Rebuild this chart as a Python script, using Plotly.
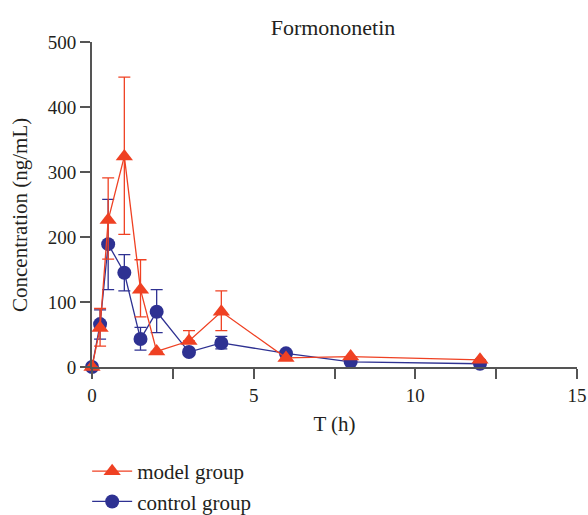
import plotly.graph_objects as go

t = [0, 0.25, 0.5, 1, 1.5, 2, 3, 4, 6, 8, 12]
model = [0, 60, 226, 324, 119, 24, 40, 85, 14, 16, 11]
model_up = [0, 30, 65, 122, 46, 0, 16, 32, 0, 0, 0]
model_dn = [0, 28, 60, 120, 42, 0, 0, 29, 0, 0, 0]
control = [0, 66, 189, 145, 43, 85, 23, 37, 21, 8, 5]
control_up = [0, 22, 69, 28, 18, 34, 0, 10, 0, 0, 0]
control_dn = [0, 23, 70, 28, 17, 32, 0, 9, 0, 0, 0]

red = "#ef4123"
blue = "#2e3192"
axis_col = "#555555"
font = "Liberation Serif"

W, H = 588, 515

fig = go.Figure()
fig.add_trace(go.Scatter(
    x=t, y=control, mode="lines+markers", name="control group", legendgroup="c",
    line=dict(color=blue, width=1.3),
    marker=dict(symbol="circle", size=14, color=blue),
    error_y=dict(type="data", array=control_up, arrayminus=control_dn,
                 color=blue, thickness=1.3, width=6),
    cliponaxis=False,
))
fig.add_trace(go.Scatter(
    x=t, y=model, mode="lines+markers", name="model group", legendgroup="m",
    line=dict(color=red, width=1.3),
    marker=dict(symbol="triangle-up", size=15, color=red),
    error_y=dict(type="data", array=model_up, arrayminus=model_dn,
                 color=red, thickness=1.3, width=6),
    cliponaxis=False,
))

fig.update_layout(
    width=W, height=H,
    margin=dict(l=92, r=11, t=42, b=148, autoexpand=False),
    paper_bgcolor="white", plot_bgcolor="white",
    font=dict(family=font, size=19, color="#231f20"),
    title=dict(text="Formononetin", x=333 / W, xanchor="center", y=1 - 27 / H, yanchor="middle",
               font=dict(family=font, size=22, color="#231f20")),
    showlegend=True,
    legend=dict(xref="paper", yref="container", x=-0.01, y=1 - 451 / H,
                xanchor="left", yanchor="top",
                traceorder="reversed", font=dict(family=font, size=21),
                bgcolor="rgba(0,0,0,0)", itemwidth=40, tracegroupgap=13),
    xaxis=dict(range=[0, 15], tickmode="array", automargin=False,
               tickvals=[0, 2.5, 5, 7.5, 10, 12.5, 15],
               ticktext=["0", "", "5", "", "10", "", "15"],
               ticklabeloverflow="allow",
               ticks="outside", ticklen=10, tickwidth=1.5, tickcolor=axis_col,
               showline=True, linecolor=axis_col, linewidth=2,
               showgrid=False, zeroline=False,
               title=dict(text="T (h)", font=dict(family=font, size=21), standoff=12),
               tickfont=dict(family=font, size=19)),
    yaxis=dict(range=[0, 500], tickmode="array", automargin=False,
               tickvals=[0, 100, 200, 300, 400, 500],
               ticklabeloverflow="allow",
               ticks="outside", ticklen=10, tickwidth=1.5, tickcolor=axis_col,
               showline=True, linecolor=axis_col, linewidth=2,
               showgrid=False, zeroline=False,
               tickfont=dict(family=font, size=19)),
    annotations=[dict(text="Concentration (ng/mL)", textangle=-90,
                      xref="paper", yref="paper", x=(20 - 92) / 485, y=(367 - 215) / 325,
                      xanchor="center", yanchor="middle", showarrow=False,
                      font=dict(family=font, size=21, color="#231f20"))],
)

# remove the default 8px page margin so the figure sits at the window's corner
fig.write_html("out.html", config={"displayModeBar": False},
               post_script="document.body.style.margin='0';")
